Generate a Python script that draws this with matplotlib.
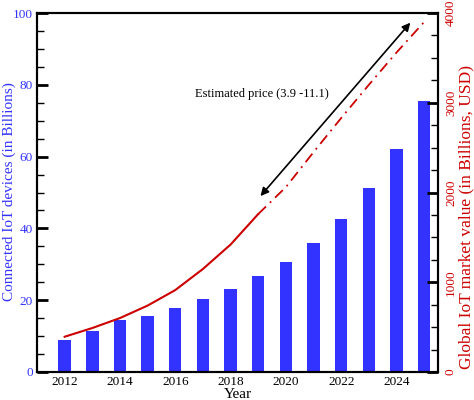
import numpy as np
import matplotlib
matplotlib.use("Agg")
import matplotlib.pyplot as plt
from matplotlib.ticker import MultipleLocator

##---- Data ----##

years = [2012, 2013, 2014, 2015, 2016, 2017, 2018, 2019, 2020, 2021, 2022, 2023, 2024, 2025]
devices = [8.9, 11.4, 14.6, 15.6, 17.8, 20.3, 23.1, 26.7, 30.6, 35.9, 42.6, 51.2, 62.1, 75.6]

# market value, measured part (solid) and forecast (dash-dot)
value_years = [2012, 2013, 2014, 2015, 2016, 2017, 2018, 2019]
value = [393, 490, 601, 740, 913, 1148, 1420, 1760]
forecast_years = [2019, 2020, 2021, 2022, 2023, 2024, 2025]
forecast = [1760, 2060, 2450, 2830, 3200, 3560, 3900]

arrow_start = (2019.08, 49.0)
arrow_end = (2024.5, 97.3)
note = "Estimated price (3.9 -11.1)"

blue = "#3333ff"
red = "#cc0000"

plt.rcParams['font.family'] = ['Liberation Serif', 'DejaVu Serif']

fig = plt.figure(figsize=(4.74, 4.0), dpi=100)
ax = fig.add_axes([37/474, 28/400, (438-37)/474, (372-13)/400])
ax2 = ax.twinx()

##---- Bars ----##
ax.bar(years, devices, width=0.45, color=blue, zorder=2)
ax.set_xlim(2011, 2025.5)
ax.set_ylim(0, 100)
ax.set_xticks([2012, 2014, 2016, 2018, 2020, 2022, 2024])
ax.tick_params(axis='x', length=0, labelsize=9.5, pad=3)
ax.yaxis.set_major_locator(MultipleLocator(20))
ax.yaxis.set_minor_locator(MultipleLocator(5))
ax.tick_params(axis='y', which='major', direction='in', length=8, width=2,
               labelsize=9.5, labelcolor=blue, pad=3)
ax.tick_params(axis='y', which='minor', direction='in', length=5, width=1)
ax.set_xlabel("Year", fontsize=11, labelpad=0)
ax.set_ylabel("Connected IoT devices (in Billions)", fontsize=11, color=blue)
ax.yaxis.set_label_coords(-0.053, 0.504)

##---- Market value ----##
ax2.plot(value_years, value, color=red, lw=1.5, zorder=3)
ax2.plot(forecast_years, forecast, color=red, lw=1.3, ls=(0, (6, 3, 1, 3)), zorder=3)
ax2.set_ylim(0, 4000)
ax2.yaxis.set_major_locator(MultipleLocator(1000))
ax2.yaxis.set_minor_locator(MultipleLocator(250))
ax2.tick_params(axis='y', which='major', direction='in', length=8, width=2,
                labelsize=9.5, labelcolor=red, pad=5, labelrotation=90)
ax2.tick_params(axis='y', which='minor', direction='in', length=5, width=1)
for lab in ax2.get_yticklabels():
    lab.set_verticalalignment('center')
ax2.set_ylabel("Global IoT market value (in Billions, USD)", fontsize=12.5, color=red)
ax2.yaxis.set_label_coords(1.05, 0.432)

for a in (ax, ax2):
    for s in a.spines.values():
        s.set_linewidth(1.5)

##---- Annotation ----##
ax.annotate("", xy=arrow_end, xytext=arrow_start,
            arrowprops=dict(arrowstyle='<|-|>', color='black', lw=1.2, mutation_scale=12,
                            shrinkA=0, shrinkB=0))
ax.text(2016.71, 77.4, note, fontsize=9, va='center', ha='left')

fig.savefig("out.png", dpi=100)
